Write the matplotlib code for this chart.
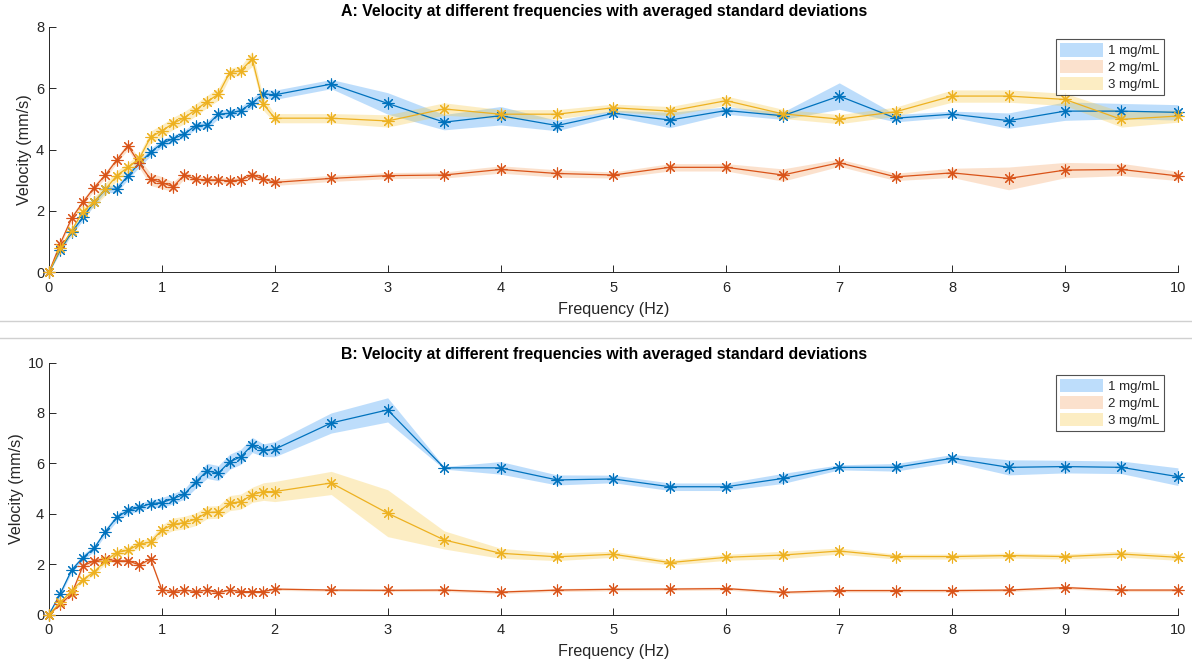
import numpy as np
import matplotlib
matplotlib.use('Agg')
import matplotlib.pyplot as plt
from matplotlib.lines import Line2D
from matplotlib.patches import Patch

plt.rcParams['font.family'] = ['Liberation Sans', 'DejaVu Sans']

# frequencies (Hz)
freq = [0, 0.1, 0.2, 0.3, 0.4, 0.5, 0.6, 0.7, 0.8, 0.9, 1.0, 1.1, 1.2, 1.3, 1.4,
        1.5, 1.6, 1.7, 1.8, 1.9, 2.0, 2.5, 3.0, 3.5, 4.0, 4.5, 5.0, 5.5, 6.0,
        6.5, 7.0, 7.5, 8.0, 8.5, 9.0, 9.5, 10.0]

labels = ['1 mg/mL', '2 mg/mL', '3 mg/mL']

# Panel A: mean velocity (mm/s)
a_1mg = [0, 0.73, 1.30, 1.79, 2.28, 2.71, 2.71, 3.15, 3.55, 3.91, 4.20, 4.35, 4.51,
         4.78, 4.79, 5.15, 5.18, 5.27, 5.52, 5.81, 5.78, 6.13, 5.50, 4.89, 5.10,
         4.78, 5.18, 4.96, 5.27, 5.10, 5.74, 5.02, 5.15, 4.94, 5.25, 5.25, 5.21]
a_2mg = [0, 0.94, 1.76, 2.28, 2.76, 3.17, 3.66, 4.12, 3.55, 3.03, 2.92, 2.79, 3.17,
         3.03, 3.01, 3.01, 2.98, 3.01, 3.17, 3.04, 2.93, 3.06, 3.15, 3.17, 3.35,
         3.22, 3.17, 3.42, 3.42, 3.17, 3.57, 3.11, 3.24, 3.06, 3.33, 3.35, 3.14]
a_3mg = [0, 0.78, 1.36, 1.98, 2.30, 2.71, 3.15, 3.42, 3.71, 4.40, 4.61, 4.85, 5.04,
         5.29, 5.56, 5.80, 6.50, 6.57, 6.95, 5.47, 5.02, 5.02, 4.93, 5.32, 5.15,
         5.15, 5.36, 5.25, 5.59, 5.16, 4.99, 5.23, 5.74, 5.74, 5.63, 4.98, 5.09]

# Panel A: averaged standard deviations
a_1mg_sd = [0, 0.08, 0.08, 0.1, 0.1, 0.1, 0.12, 0.12, 0.12, 0.12, 0.12, 0.12, 0.12,
            0.12, 0.12, 0.14, 0.12, 0.12, 0.15, 0.15, 0.15, 0.15, 0.35, 0.25, 0.3,
            0.17, 0.1, 0.25, 0.12, 0.12, 0.43, 0.12, 0.1, 0.25, 0.3, 0.25, 0.25]
a_2mg_sd = [0, 0.08, 0.1, 0.1, 0.1, 0.1, 0.1, 0.12, 0.15, 0.2, 0.2, 0.15, 0.12,
            0.1, 0.1, 0.1, 0.1, 0.1, 0.12, 0.1, 0.1, 0.1, 0.1, 0.1, 0.12,
            0.12, 0.1, 0.12, 0.12, 0.2, 0.12, 0.12, 0.15, 0.37, 0.25, 0.2, 0.15]
a_3mg_sd = [0, 0.08, 0.1, 0.12, 0.15, 0.2, 0.15, 0.15, 0.15, 0.2, 0.2, 0.2, 0.2,
            0.2, 0.2, 0.2, 0.15, 0.15, 0.25, 0.2, 0.15, 0.15, 0.2, 0.2, 0.15,
            0.15, 0.12, 0.15, 0.15, 0.15, 0.15, 0.15, 0.2, 0.2, 0.2, 0.25, 0.2]

# Panel B: mean velocity (mm/s)
b_1mg = [0, 0.83, 1.76, 2.26, 2.63, 3.29, 3.85, 4.14, 4.25, 4.40, 4.44, 4.60, 4.78,
         5.26, 5.70, 5.61, 6.06, 6.26, 6.73, 6.52, 6.56, 7.60, 8.12, 5.82, 5.82,
         5.34, 5.38, 5.07, 5.07, 5.40, 5.84, 5.84, 6.20, 5.84, 5.87, 5.84, 5.47]
b_2mg = [0, 0.41, 0.81, 1.93, 2.13, 2.20, 2.13, 2.13, 1.97, 2.20, 0.98, 0.91, 0.97,
         0.91, 0.97, 0.87, 0.97, 0.91, 0.91, 0.91, 1.01, 0.97, 0.96, 0.97, 0.89,
         0.97, 1.00, 1.01, 1.03, 0.88, 0.95, 0.95, 0.95, 0.97, 1.07, 0.97, 0.97]
b_3mg = [0, 0.48, 0.94, 1.38, 1.69, 2.13, 2.46, 2.55, 2.79, 2.88, 3.35, 3.58, 3.65,
         3.78, 4.05, 4.07, 4.42, 4.48, 4.75, 4.88, 4.88, 5.22, 4.02, 2.96, 2.43,
         2.29, 2.39, 2.06, 2.27, 2.36, 2.52, 2.30, 2.30, 2.34, 2.30, 2.40, 2.27]

# Panel B: averaged standard deviations
b_1mg_sd = [0, 0.08, 0.1, 0.12, 0.12, 0.12, 0.15, 0.15, 0.15, 0.15, 0.2, 0.2, 0.2,
            0.25, 0.3, 0.3, 0.3, 0.3, 0.3, 0.25, 0.3, 0.4, 0.48, 0.05, 0.25,
            0.2, 0.15, 0.15, 0.15, 0.2, 0.1, 0.15, 0.15, 0.3, 0.25, 0.25, 0.35]
b_2mg_sd = [0, 0.05, 0.08, 0.1, 0.1, 0.08, 0.08, 0.08, 0.08, 0.08, 0.06, 0.05, 0.05,
            0.05, 0.05, 0.05, 0.05, 0.05, 0.05, 0.05, 0.05, 0.05, 0.05, 0.06, 0.06,
            0.06, 0.06, 0.06, 0.06, 0.06, 0.06, 0.06, 0.06, 0.06, 0.06, 0.06, 0.06]
b_3mg_sd = [0, 0.06, 0.08, 0.1, 0.12, 0.12, 0.12, 0.15, 0.15, 0.15, 0.2, 0.25, 0.25,
            0.25, 0.25, 0.25, 0.3, 0.3, 0.3, 0.35, 0.4, 0.46, 0.93, 0.36, 0.2,
            0.15, 0.12, 0.1, 0.12, 0.15, 0.12, 0.1, 0.1, 0.1, 0.1, 0.12, 0.12]

line_colors = ['#0072BD', '#D95319', '#EDB120']
fill_colors = ['#2691F5', '#F59E5C', '#F8C63A']
fill_alpha = 0.3
ink = '#262626'

asterisk = (8, 2, 0)


def draw_panel(ax, means, sds, title, ymax, yticks, title_pad):
    x = np.array(freq)
    handles = []
    for m, s, fc in zip(means, sds, fill_colors):
        m = np.array(m)
        s = np.array(s)
        ax.fill_between(x, m - s, m + s, color=fc, alpha=fill_alpha, linewidth=0)
        handles.append(Patch(facecolor=fc, alpha=fill_alpha, edgecolor='none'))
    for m, lc in zip(means, line_colors):
        ax.plot(x, m, color=lc, linewidth=0.9, marker=asterisk, markersize=8.5,
                markeredgewidth=0.8, clip_on=False, zorder=3)

    ax.set_xlim(0, 10)
    ax.set_ylim(0, ymax)
    ax.set_xticks(range(0, 11))
    ax.set_yticks(yticks)
    ax.spines['top'].set_visible(False)
    ax.spines['right'].set_visible(False)
    for sp in ('left', 'bottom'):
        ax.spines[sp].set_color(ink)
        ax.spines[sp].set_linewidth(0.7)
    ax.tick_params(direction='in', length=5, width=0.7, colors=ink, labelsize=10.5)
    ax.tick_params(axis='x', pad=6)
    ax.set_xlabel('Frequency (Hz)', fontsize=11.6, color=ink, labelpad=5)
    ax.set_ylabel('Velocity (mm/s)', fontsize=11.6, color=ink, labelpad=3)
    ax.set_title(title, fontsize=11.4, fontweight='bold', color='black',
                 pad=title_pad, x=0.492)

    ax_h = ax.get_position().height * 666
    leg = ax.legend(handles, labels, loc='upper right',
                    bbox_to_anchor=(1 - 14 / 1129, 1 - 12.5 / ax_h),
                    fontsize=9.5, frameon=True, fancybox=False, handlelength=3.3,
                    handleheight=1.2, handletextpad=0.4, borderpad=0.3,
                    labelspacing=0.2, borderaxespad=0.0)
    leg.get_frame().set_edgecolor(ink)
    leg.get_frame().set_linewidth(0.8)
    for t in leg.get_texts():
        t.set_color(ink)


fig = plt.figure(figsize=(11.92, 6.66), dpi=100, facecolor='white')

ax_a = fig.add_axes([0.0411, 0.591, 0.9471, 0.369])
draw_panel(ax_a, [a_1mg, a_2mg, a_3mg], [a_1mg_sd, a_2mg_sd, a_3mg_sd],
           'A: Velocity at different frequencies with averaged standard deviations',
           8, [0, 2, 4, 6, 8], 8)

ax_b = fig.add_axes([0.0411, 0.0773, 0.9471, 0.3784])
draw_panel(ax_b, [b_1mg, b_2mg, b_3mg], [b_1mg_sd, b_2mg_sd, b_3mg_sd],
           'B: Velocity at different frequencies with averaged standard deviations',
           10, [0, 2, 4, 6, 8, 10], 2.5)

# light separator lines between the two figure panes
for ypix in (320.5, 337.5):
    fig.add_artist(Line2D([0, 1], [1 - ypix / 666, 1 - ypix / 666],
                          transform=fig.transFigure, color='#D0D0D0', linewidth=1))

fig.savefig('out.png', dpi=100, facecolor='white')
